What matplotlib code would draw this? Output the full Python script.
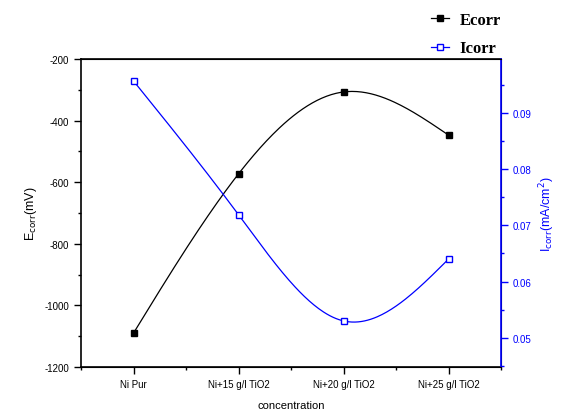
import numpy as np
import matplotlib
matplotlib.use("Agg")
import matplotlib.pyplot as plt
from matplotlib.ticker import MultipleLocator
from matplotlib.lines import Line2D

categories = ["Ni Pur", "Ni+15 g/l TiO2", "Ni+20 g/l TiO2", "Ni+25 g/l TiO2"]
ecorr = [-1090, -573, -307, -447]
icorr = [0.0957, 0.0719, 0.0530, 0.0640]

plt.rcParams['font.family'] = ['Liberation Sans', 'DejaVu Sans']
plt.rcParams['axes.unicode_minus'] = False


def natural_spline(x, y, n=200):
    x = np.asarray(x, float); y = np.asarray(y, float)
    k = len(x)
    h = np.diff(x)
    A = np.zeros((k, k)); b = np.zeros(k)
    A[0, 0] = 1; A[-1, -1] = 1
    for i in range(1, k - 1):
        A[i, i - 1] = h[i - 1]; A[i, i] = 2 * (h[i - 1] + h[i]); A[i, i + 1] = h[i]
        b[i] = 3 * ((y[i + 1] - y[i]) / h[i] - (y[i] - y[i - 1]) / h[i - 1])
    c = np.linalg.solve(A, b)
    xs = np.linspace(x[0], x[-1], n)
    ys = np.empty_like(xs)
    for j, xv in enumerate(xs):
        i = min(np.searchsorted(x, xv, side='right') - 1, k - 2)
        bi = (y[i + 1] - y[i]) / h[i] - h[i] * (2 * c[i] + c[i + 1]) / 3
        di = (c[i + 1] - c[i]) / (3 * h[i])
        t = xv - x[i]
        ys[j] = y[i] + bi * t + c[i] * t ** 2 + di * t ** 3
    return xs, ys


fig = plt.figure(figsize=(5.61, 4.14), dpi=100)
ax = fig.add_axes([81 / 561, 1 - 368 / 414, 420 / 561, 308 / 414])
ax2 = ax.twinx()

x = np.arange(len(categories))
xs, ys = natural_spline(x, ecorr)
ax.plot(xs, ys, color='black', lw=0.9)
ax.plot(x, ecorr, 's', color='black', ms=5, mec='black')

xs2, ys2 = natural_spline(x, icorr)
ax2.plot(xs2, ys2, color='blue', lw=0.9)
ax2.plot(x, icorr, 's', color='blue', ms=5, mfc='white', mec='blue', mew=1)

ax.set_xlim(-0.5, 3.5)
ax.set_ylim(-1200, -200)
ax2.set_ylim(0.0448, 0.0996)

ax.set_xticks(x)
ax.set_xticklabels(categories, fontsize=7)
ax.xaxis.set_minor_locator(MultipleLocator(0.5))
ax.yaxis.set_major_locator(MultipleLocator(200))
ax.yaxis.set_minor_locator(MultipleLocator(100))
ax2.yaxis.set_major_locator(MultipleLocator(0.01))
ax2.yaxis.set_minor_locator(MultipleLocator(0.005))
ax2.yaxis.set_major_formatter(plt.FuncFormatter(lambda v, p: f"{v:.2f}"))

ax.tick_params(axis='both', which='major', direction='out', length=5, width=1, labelsize=7)
ax.tick_params(axis='both', which='minor', direction='out', length=2.5, width=1)
ax2.tick_params(axis='y', which='major', direction='out', length=5, width=1, colors='blue', labelsize=7)
ax2.tick_params(axis='y', which='minor', direction='out', length=2.5, width=1, colors='blue')

for s in ['left', 'bottom', 'top']:
    ax.spines[s].set_linewidth(1.2)
ax2.spines['right'].set_color('blue')
ax2.spines['right'].set_linewidth(1.2)
ax2.spines['left'].set_visible(False)

ax.set_xlabel("concentration", fontsize=8, labelpad=8)
ax.set_ylabel(r"E$_{\mathrm{corr}}$(mV)", fontsize=9)
ax2.set_ylabel(r"I$_{\mathrm{corr}}$(mA/cm$^{2}$)", fontsize=9, color='blue')

handles = [
    Line2D([], [], color='black', marker='s', ms=4, lw=0.9),
    Line2D([], [], color='blue', marker='s', ms=4, mfc='white', mec='blue', lw=0.9),
]
fig.legend(handles, ["Ecorr", "Icorr"], loc='upper left', bbox_to_anchor=(416 / 561, 1.005),
           frameon=False, handlelength=1.1, handletextpad=0.6, labelspacing=0.75,
           prop={'family': 'Liberation Serif', 'weight': 'bold', 'size': 12})

fig.savefig("out.png", dpi=100)
